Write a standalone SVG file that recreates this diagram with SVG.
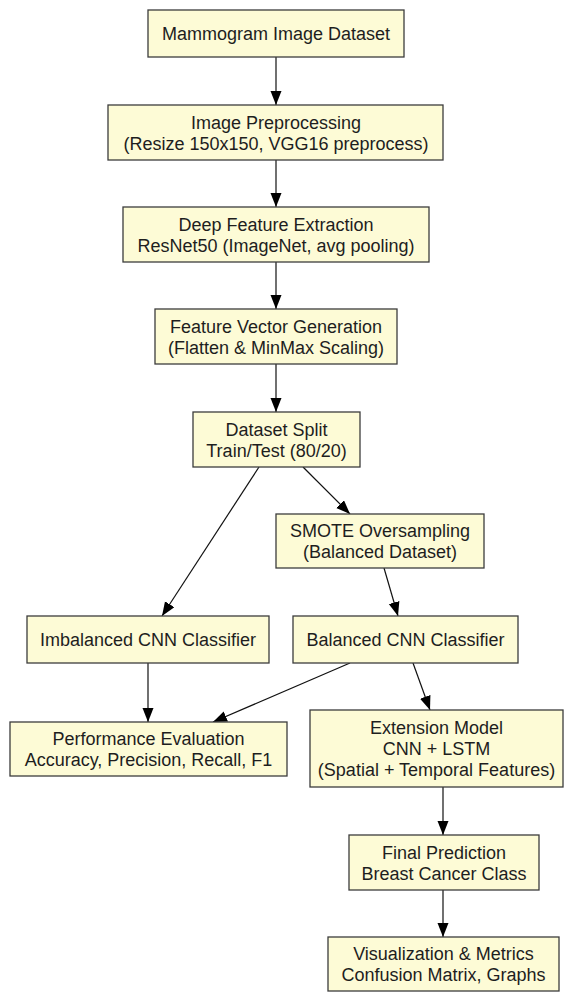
<svg xmlns="http://www.w3.org/2000/svg" width="573" height="992" viewBox="0 0 573 992">
<style>
.box{fill:#fdfbd6;stroke:#3c3c3c;stroke-width:1.3}
.t{font-family:"Liberation Sans",Arial,sans-serif;font-size:18px;fill:#1e1e1e;text-anchor:middle}
.e{fill:none;stroke:#111;stroke-width:1.2}
</style>
<defs>
<marker id="ah" markerUnits="userSpaceOnUse" markerWidth="16" markerHeight="12" refX="14" refY="5.5" orient="auto">
<path d="M0,0 L14,5.5 L0,11 Z" fill="#000"/>
</marker>
</defs>
<rect width="573" height="992" fill="#fff"/>
<g id="connectors">
<line class="e" x1="276" y1="57" x2="276" y2="105" marker-end="url(#ah)"/>
<line class="e" x1="276" y1="160" x2="276" y2="207" marker-end="url(#ah)"/>
<line class="e" x1="276" y1="262" x2="276" y2="309" marker-end="url(#ah)"/>
<line class="e" x1="276" y1="364" x2="276" y2="412" marker-end="url(#ah)"/>
<line class="e" x1="259" y1="467" x2="162" y2="616" marker-end="url(#ah)"/>
<line class="e" x1="303" y1="467" x2="350" y2="514" marker-end="url(#ah)"/>
<line class="e" x1="384" y1="568" x2="398" y2="616" marker-end="url(#ah)"/>
<line class="e" x1="148" y1="663" x2="148" y2="722" marker-end="url(#ah)"/>
<line class="e" x1="350" y1="663" x2="213" y2="722" marker-end="url(#ah)"/>
<line class="e" x1="413" y1="663" x2="430" y2="710" marker-end="url(#ah)"/>
<line class="e" x1="443" y1="787" x2="443" y2="835" marker-end="url(#ah)"/>
<line class="e" x1="443" y1="890" x2="443" y2="937" marker-end="url(#ah)"/>
</g>
<g id="n1"><rect class="box" x="148" y="10" width="256" height="47"/><text class="t" x="276" y="40">Mammogram Image Dataset</text></g>
<g id="n2"><rect class="box" x="108" y="105" width="335" height="55"/><text class="t" x="276" y="129">Image Preprocessing</text><text class="t" x="276" y="150">(Resize 150x150, VGG16 preprocess)</text></g>
<g id="n3"><rect class="box" x="123" y="207" width="306" height="55"/><text class="t" x="276" y="231">Deep Feature Extraction</text><text class="t" x="276" y="252">ResNet50 (ImageNet, avg pooling)</text></g>
<g id="n4"><rect class="box" x="155" y="309" width="242" height="55"/><text class="t" x="276" y="333">Feature Vector Generation</text><text class="t" x="276" y="354">(Flatten &amp; MinMax Scaling)</text></g>
<g id="n5"><rect class="box" x="193" y="412" width="167" height="55"/><text class="t" x="276.5" y="436">Dataset Split</text><text class="t" x="276.5" y="457">Train/Test (80/20)</text></g>
<g id="n6"><rect class="box" x="276" y="514" width="208" height="54"/><text class="t" x="380" y="537">SMOTE Oversampling</text><text class="t" x="380" y="558">(Balanced Dataset)</text></g>
<g id="n7"><rect class="box" x="27" y="616" width="242" height="47"/><text class="t" x="148" y="646">Imbalanced CNN Classifier</text></g>
<g id="n8"><rect class="box" x="293" y="616" width="225" height="47"/><text class="t" x="405.5" y="646">Balanced CNN Classifier</text></g>
<g id="n9"><rect class="box" x="10" y="722" width="277" height="54"/><text class="t" x="148.5" y="745">Performance Evaluation</text><text class="t" x="148.5" y="766">Accuracy, Precision, Recall, F1</text></g>
<g id="n10"><rect class="box" x="310" y="710" width="253" height="77"/><text class="t" x="436.5" y="734">Extension Model</text><text class="t" x="436.5" y="755">CNN + LSTM</text><text class="t" x="436.5" y="776">(Spatial + Temporal Features)</text></g>
<g id="n11"><rect class="box" x="349" y="835" width="190" height="55"/><text class="t" x="444" y="859">Final Prediction</text><text class="t" x="444" y="880">Breast Cancer Class</text></g>
<g id="n12"><rect class="box" x="328" y="937" width="231" height="54"/><text class="t" x="443.5" y="960">Visualization &amp; Metrics</text><text class="t" x="443.5" y="981">Confusion Matrix, Graphs</text></g>
</svg>
